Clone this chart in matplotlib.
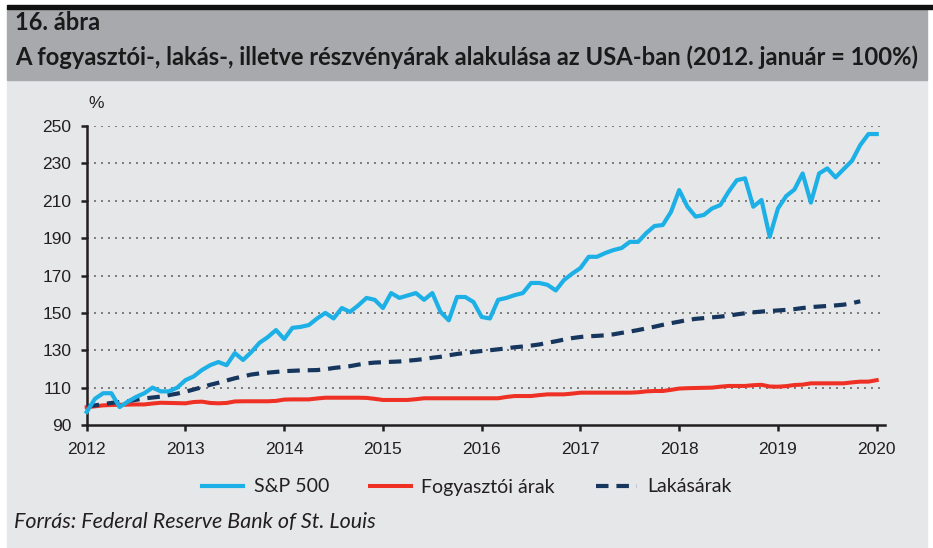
import matplotlib
matplotlib.use("Agg")
import matplotlib.pyplot as plt
from matplotlib import font_manager
from matplotlib.patches import Rectangle
import numpy as np

# monthly index values, 2012. január = 100
start_year = 2012
sp500 = [97, 104, 107, 107, 99.6, 102.5, 105, 107, 110, 108, 108, 110,
         114, 116, 119.4, 122, 123.7, 122, 128.5, 124.8, 129, 134, 137, 140.8,
         136, 142, 142.5, 143.5, 147, 150, 147, 152.6, 150.5, 154, 158, 157,
         152.6, 160.6, 158, 159.3, 160.6, 157, 160.6, 150.5, 146, 158.5, 158.5, 155.8,
         147.8, 147, 157, 158, 159.5, 160.6, 166, 166, 165, 162, 167.6, 171,
         174, 180, 180, 182, 183.6, 184.7, 188, 188, 192.7, 196.5, 197, 204,
         215.7, 206.8, 201.5, 202.4, 205.9, 207.7, 214.8, 221, 222, 206.8, 210.4, 190.7,
         205.9, 212.5, 216, 224.6, 209, 224.6, 227.3, 222.5, 227, 231.4, 239.8, 245.7, 245.7]

fogyasztoi = [99.5, 100, 100.5, 100.7, 100.8, 100.9, 101, 101, 101.5, 101.9, 101.8, 101.7,
              101.6, 102.3, 102.5, 101.8, 101.6, 101.8, 102.6, 102.7, 102.7, 102.7, 102.7, 102.9,
              103.6, 103.7, 103.7, 103.7, 104.2, 104.6, 104.6, 104.6, 104.6, 104.6, 104.5, 104,
              103.4, 103.4, 103.4, 103.4, 103.8, 104.3, 104.3, 104.3, 104.3, 104.3, 104.3, 104.3,
              104.3, 104.3, 104.3, 105, 105.5, 105.5, 105.5, 106, 106.4, 106.4, 106.4, 106.8,
              107.3, 107.3, 107.3, 107.3, 107.3, 107.3, 107.3, 107.5, 108, 108.2, 108.2, 108.8,
              109.5, 109.7, 109.8, 109.9, 110, 110.5, 110.9, 110.9, 110.9, 111.3, 111.5, 110.6,
              110.5, 110.8, 111.4, 111.6, 112.3, 112.3, 112.3, 112.3, 112.3, 112.8, 113.2, 113.2, 114]

lakasarak = [100, 100.5, 101.2, 101.8, 102.3, 102.7, 103.5, 104.2, 104.7, 105.2, 106, 106.8,
             107.8, 109, 110.2, 111.5, 112.6, 113.8, 115, 116, 117, 117.6, 118, 118.4,
             118.8, 119, 119.2, 119.3, 119.4, 119.8, 120.5, 121, 121.5, 122.3, 123, 123.4,
             123.6, 123.8, 124, 124.4, 124.8, 125.3, 126, 126.5, 127.3, 128, 128.6, 129.1,
             129.6, 130, 130.5, 131, 131.6, 132, 132.5, 133.1, 134, 134.8, 135.7, 136.5,
             137.1, 137.5, 137.7, 138, 138.5, 139.3, 140, 140.8, 141.7, 142.6, 143.6, 144.5,
             145.3, 146.2, 146.8, 147.2, 147.6, 148, 148.5, 149.2, 149.8, 150.3, 150.7, 151,
             151.3, 151.6, 152, 152.6, 153.1, 153.4, 153.7, 154, 154.4, 155.2, 156.2]

year_ticks = list(range(2012, 2021))
y_ticks = list(range(90, 251, 20))

title1 = "16. ábra"
title2 = "A fogyasztói-, lakás-, illetve részvényárak alakulása az USA-ban (2012. január = 100%)"
source = "Forrás: Federal Reserve Bank of St. Louis"
labels = ["S&P 500", "Fogyasztói árak", "Lakásárak"]

installed = {f.name for f in font_manager.fontManager.ttflist}
NARROW = "Lato" if "Lato" in installed else "Open Sans"
PLAIN = "Liberation Sans"

W, H = 933, 548
BODY = "#e6e7e8"
BAR = "#a7a9ac"
INK = "#231f20"
BLUE = "#1cb0e6"
RED = "#ee3124"
NAVY = "#17365d"

fig = plt.figure(figsize=(W / 100, H / 100), dpi=100)
fig.patch.set_facecolor("white")


def fx(px):
    return px / W


def fy(py):
    return 1 - py / H


fig.patches.append(Rectangle((fx(7), 0), fx(920), fy(80), transform=fig.transFigure,
                             color=BODY, zorder=-10))
fig.patches.append(Rectangle((fx(7), fy(80)), fx(920), (80 - 8) / H, transform=fig.transFigure,
                             color=BAR, zorder=-10))
fig.patches.append(Rectangle((fx(7), fy(8.5)), 1 - fx(7), 3 / H, transform=fig.transFigure,
                             color="#111111", zorder=-10))

renderer = fig.canvas.get_renderer()


def fit_text(x, y, s, width_px, **kw):
    t = fig.text(x, y, s, **kw)
    w = t.get_window_extent(renderer).width
    t.set_fontsize(t.get_fontsize() * width_px / w)
    return t


fit_text(fx(15), fy(23), title1, 85, family=NARROW, weight="bold", fontsize=16,
         color="#1a1a1a", va="center")
fit_text(fx(15), fy(57), title2, 906, family=NARROW, weight="bold", fontsize=16,
         color="#1a1a1a", va="center")
fit_text(fx(14), fy(522), source, 360, family=NARROW, style="italic", fontsize=12,
         color=INK, va="center")

ax = fig.add_axes([fx(86.7), fy(425), fx(885 - 86.7), (425 - 126) / H])
ax.set_facecolor("none")

x_sp = start_year + np.arange(len(sp500)) / 12
x_cpi = start_year + np.arange(len(fogyasztoi)) / 12
x_hp = start_year + np.arange(len(lakasarak)) / 12

l1, = ax.plot(x_sp, sp500, color=BLUE, lw=3.0, clip_on=False, zorder=4)
l2, = ax.plot(x_cpi, fogyasztoi, color=RED, lw=2.9, clip_on=False, zorder=3)
l3, = ax.plot(x_hp, lakasarak, color=NAVY, lw=3.0, dashes=(3.0, 1.9), clip_on=False, zorder=3)

ax.set_xlim(2012, 2012 + (885 - 86.7) / 98.75)
ax.set_ylim(90, 250)
ax.set_xticks(year_ticks)
ax.set_yticks(y_ticks)
ax.set_xticklabels([str(y) for y in year_ticks], family=PLAIN, fontsize=12.5, color=INK)
ax.set_yticklabels([str(v) for v in y_ticks], family=PLAIN, fontsize=12.5, color=INK)

for v in y_ticks[1:]:
    ax.plot([2012, 2012 + (880 - 86.7) / 98.75], [v, v], color="#7a7a7a", lw=1.4,
            linestyle=(0, (1, 2.6)), zorder=1)

for side in ["top", "right"]:
    ax.spines[side].set_visible(False)
for side in ["left", "bottom"]:
    ax.spines[side].set_color(INK)
    ax.spines[side].set_linewidth(1.8)
ax.tick_params(direction="out", length=4, width=1.8, color=INK)
ax.tick_params(axis="x", pad=8)
ax.tick_params(axis="y", pad=7)

fig.text(fx(88), fy(103), "%", family=PLAIN, fontsize=12.5, color=INK, va="center")

leg = fig.legend([l1, l2, l3], labels, loc="center", bbox_to_anchor=(fx(467), fy(487)),
                 ncol=3, frameon=False, handlelength=2.1, handletextpad=0.55,
                 columnspacing=2.1, prop={"family": NARROW, "size": 14})
for t in leg.get_texts():
    t.set_color(INK)

fig.savefig("out.png", dpi=100, facecolor=fig.get_facecolor())
